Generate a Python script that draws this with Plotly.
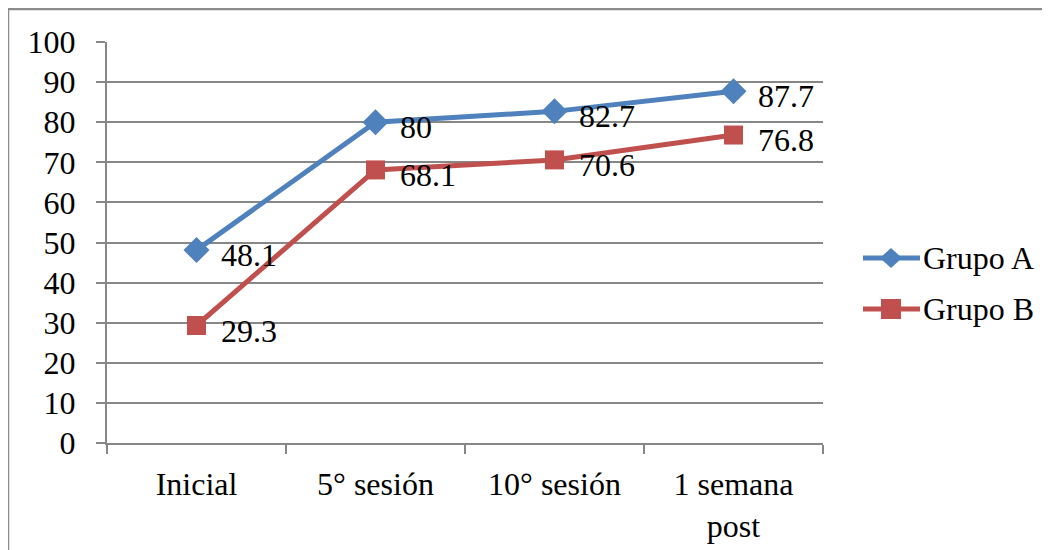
import plotly.graph_objects as go

categories = ["Inicial", "5° sesión", "10° sesión", "1 semana<br>post"]
grupo_a = [48.1, 80, 82.7, 87.7]
grupo_b = [29.3, 68.1, 70.6, 76.8]
series_names = ["Grupo A", "Grupo B"]
y_ticks = [0, 10, 20, 30, 40, 50, 60, 70, 80, 90, 100]

FONT = "Liberation Serif"
FS = 32
BLUE = "#4F81BD"
RED = "#C0504D"
GRID = "#878787"

fig = go.Figure()
fig.add_trace(go.Scatter(
    x=categories, y=grupo_a, name=series_names[0], mode="lines+markers",
    line=dict(color=BLUE, width=5),
    marker=dict(symbol="diamond", size=20, color=BLUE),
))
fig.add_trace(go.Scatter(
    x=categories, y=grupo_b, name=series_names[1], mode="lines+markers",
    line=dict(color=RED, width=5),
    marker=dict(symbol="square", size=19, color=RED),
))

for series in (grupo_a, grupo_b):
    for c, v in zip(categories, series):
        fig.add_annotation(
            x=c, y=v, text=f"{v:g}", showarrow=False,
            xanchor="left", yanchor="middle", xshift=22, yshift=-5,
            font=dict(family=FONT, size=FS, color="black"),
        )

# page has an 8px body margin; figure coords = page coords - 8
W, H = 1042, 542
L, T = 99, 34
R = W - 815
B = H - 435
pw, ph = W - L - R, H - T - B


def px(fx):
    return (fx - L) / pw


def py(fy):
    return (H - B - fy) / ph


# outer chart border
fig.add_shape(
    type="rect", xref="paper", yref="paper",
    x0=px(0), x1=px(1060), y0=py(560), y1=py(1),
    line=dict(color="#8C8C8C", width=2.5), fillcolor="rgba(0,0,0,0)",
)

# custom legend (Excel style: long line with centered marker)
legend_rows = [(series_names[0], BLUE, "diamond", 250), (series_names[1], RED, "square", 301)]
for name, col, sym, fy in legend_rows:
    fig.add_shape(type="line", xref="paper", yref="paper",
                  x0=px(855), x1=px(912), y0=py(fy), y1=py(fy),
                  line=dict(color=col, width=5))
    if sym == "diamond":
        cx, cy, rx, ry = 883, fy, 11, 10
        path = (f"M {px(cx - rx)} {py(cy)} L {px(cx)} {py(cy - ry)} "
                f"L {px(cx + rx)} {py(cy)} L {px(cx)} {py(cy + ry)} Z")
        fig.add_shape(type="path", xref="paper", yref="paper", path=path,
                      fillcolor=col, line=dict(color=col, width=0))
    else:
        fig.add_shape(type="rect", xref="paper", yref="paper",
                      x0=px(873), x1=px(893), y0=py(fy + 10), y1=py(fy - 10),
                      fillcolor=col, line=dict(color=col, width=0))
    fig.add_annotation(xref="paper", yref="paper", x=px(913), y=py(fy),
                       text=name, showarrow=False, xanchor="left", yanchor="middle",
                       font=dict(family=FONT, size=FS, color="black"))

fig.update_layout(
    width=W, height=H,
    margin=dict(l=L, r=R, t=T, b=B),
    paper_bgcolor="white", plot_bgcolor="white",
    font=dict(family=FONT, size=FS, color="black"),
    showlegend=False,
    xaxis=dict(
        type="category", range=[-0.5, 3.5], tickson="boundaries",
        showgrid=False, showline=True, linecolor=GRID, linewidth=2,
        ticks="outside", ticklen=9, tickwidth=2, tickcolor=GRID,
        ticklabelstandoff=12, fixedrange=True, automargin=False,
        tickfont=dict(family=FONT, size=FS),
    ),
    yaxis=dict(
        range=[0, 100], tickvals=y_ticks,
        showgrid=True, gridcolor=GRID, gridwidth=2,
        showline=True, linecolor=GRID, linewidth=2,
        ticks="outside", ticklen=9, tickwidth=2, tickcolor=GRID,
        ticklabelstandoff=14, zeroline=False, fixedrange=True, automargin=False,
        tickfont=dict(family=FONT, size=FS),
    ),
)

fig.write_html("out.html")
